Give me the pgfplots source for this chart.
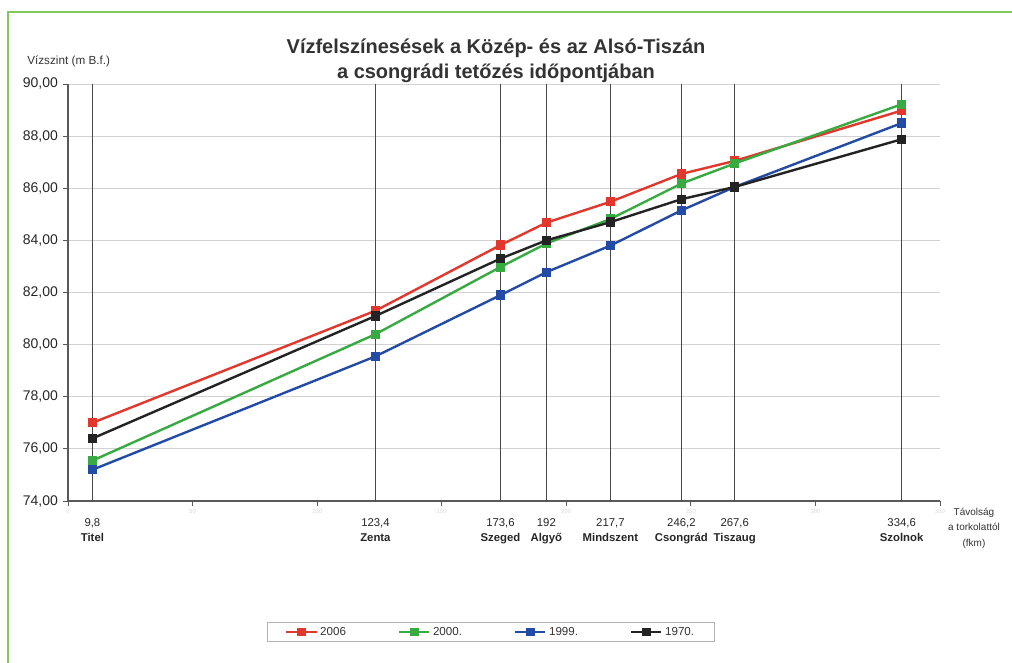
\documentclass[border=0pt]{standalone}
\usepackage{pgfplots}
\pgfplotsset{compat=1.18}
\usepackage{pgfplotstable}
\usepackage{fontspec}
\setmainfont{Liberation Sans}
\definecolor{cRed}{RGB}{225,55,45}
\definecolor{cGreen}{RGB}{55,170,65}
\definecolor{cBlue}{RGB}{35,75,165}
\definecolor{cBlack}{RGB}{35,35,35}
\definecolor{frame}{RGB}{130,200,90}
\pgfplotstableread{
x     y2006 y2000 y1999 y1970
9.8   77.00 75.55 75.20 76.40
123.4 81.30 80.40 79.55 81.10
173.6 83.82 82.98 81.90 83.30
192   84.68 83.88 82.78 84.00
217.7 85.48 84.82 83.80 84.70
246.2 86.55 86.18 85.15 85.58
267.6 87.05 86.95 86.05 86.05
334.6 88.98 89.22 88.50 87.88
}\datatable
\begin{document}
\begin{tikzpicture}
\useasboundingbox (-51pt,-120.75pt) rectangle (708pt,375.75pt);
\draw[frame, line width=1.5pt] (-45pt,-130pt) |- (720pt,366.75pt);
\begin{axis}[
  at={(0,0)}, anchor=south west,
  scale only axis, width=654pt, height=312.75pt,
  xmin=0, xmax=350, ymin=74, ymax=90,
  axis x line*=bottom, axis y line*=left,
  axis line style={black!65, line width=0.8pt},
  ytick={74,76,...,90},
  ymajorgrids, major grid style={gray!35, line width=0.6pt},
  yticklabel style={font=\fontsize{10.5}{12}\selectfont, text=black!85, /pgf/number format/.cd, fixed, fixed zerofill, precision=2, use comma},
  /pgf/number format/assume math mode=true,
  tick align=outside, major tick length=4pt,
  tick style={black!65, line width=0.6pt},
  xtick={0,50,...,350},
  xticklabel style={font=\fontsize{4.5}{5}\selectfont, text=gray!30, yshift=1pt},
  extra x ticks={9.8,123.4,173.6,192,217.7,246.2,267.6,334.6},
  extra x tick labels={{9,8\\\textbf{Titel}},{123,4\\\textbf{Zenta}},{173,6\\\textbf{Szeged}},{192\\\textbf{Algyő}},{217,7\\\textbf{Mindszent}},{246,2\\\textbf{Csongrád}},{267,6\\\textbf{Tiszaug}},{334,6\\\textbf{Szolnok}}},
  extra x tick style={
    grid=major, major grid style={black!72, line width=1.1pt},
    major tick length=0pt,
    xticklabel style={font=\fontsize{8.5}{11.25}\selectfont, text=black!85, align=center, yshift=-11pt}},
  legend columns=4,
  legend style={at={(0.4851,-0.3141)}, anchor=center, draw=gray!60, line width=0.6pt,
    font=\fontsize{8.7}{10}\selectfont, text=black!80, inner xsep=13.5pt, inner ysep=1.5pt,
    /tikz/every even column/.append style={column sep=37pt}},
  legend image code/.code={\draw[mark repeat=2,mark phase=2,line width=1.5pt] plot coordinates {(0cm,0cm) (0.4cm,0cm) (0.8cm,0cm)};},
  every axis plot/.append style={line width=1.8pt, mark=square*, mark size=2.6pt, mark options={solid}},
  clip=false,
]
\addplot[cRed] table[x=x,y=y2006]{\datatable};
\addlegendentry{2006}
\addplot[cGreen] table[x=x,y=y2000]{\datatable};
\addlegendentry{2000.}
\addplot[cBlue] table[x=x,y=y1999]{\datatable};
\addlegendentry{1999.}
\addplot[cBlack] table[x=x,y=y1970]{\datatable};
\addlegendentry{1970.}
\end{axis}
\node[anchor=base, font=\fontsize{15}{18}\selectfont\bfseries, text=black!80] at (321pt,336pt) {Vízfelszínesések a Közép- és az Alsó-Tiszán};
\node[anchor=base, font=\fontsize{15}{18}\selectfont\bfseries, text=black!80] at (321pt,317.25pt) {a csongrádi tetőzés időpontjában};
\node[anchor=base west, font=\fontsize{8.8}{10}\selectfont, text=black!80, inner sep=0pt] at (-30.75pt,327.75pt) {Vízszint (m B.f.)};
\node[anchor=base, font=\fontsize{7.5}{9}\selectfont, text=black!80] at (679.5pt,-10.5pt) {Távolság};
\node[anchor=base, font=\fontsize{7.5}{9}\selectfont, text=black!80] at (679.5pt,-21.75pt) {a torkolattól};
\node[anchor=base, font=\fontsize{7.5}{9}\selectfont, text=black!80] at (679.5pt,-33.75pt) {(fkm)};
\end{tikzpicture}
\end{document}
